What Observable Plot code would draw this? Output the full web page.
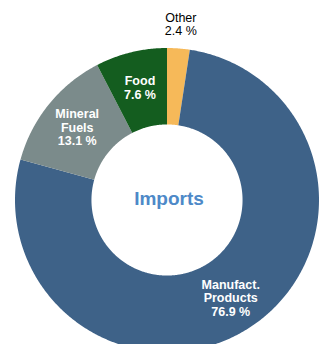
<!DOCTYPE html>
<html>
<head>
<meta charset="utf-8">
<script src="https://cdn.jsdelivr.net/npm/d3@7"></script>
<script src="https://cdn.jsdelivr.net/npm/@observablehq/plot@0.6"></script>
<style>
  html, body { margin: 0; padding: 0; background: #fff; }
  svg { display: block; }
</style>
</head>
<body>
<div id="chart"></div>
<script>
// Data (clockwise from 12 o'clock)
const categories = ["Other", "Manufact. Products", "Mineral Fuels", "Food"];
const shares = [2.4, 76.9, 13.1, 7.6];
const labelLines = [["Other", "2.4 %"], ["Manufact.", "Products", "76.9 %"], ["Mineral", "Fuels", "13.1 %"], ["Food", "7.6 %"]];
const colors = ["#f6b959", "#3e6288", "#7b8b8b", "#145d1f"];
const centerLabel = "Imports";

const inner = 0.497, outer = 1;
const total = d3.sum(shares);

// Build annular-sector outlines from the shares
const ringPts = [];
const labelPts = [];
let cum = 0;
categories.forEach((cat, i) => {
  const a0 = cum / total * 2 * Math.PI;
  cum += shares[i];
  const a1 = cum / total * 2 * Math.PI;
  const n = Math.max(2, Math.ceil((a1 - a0) / (Math.PI / 360)));
  for (let k = 0; k <= n; k++) {
    const t = a0 + (a1 - a0) * k / n;
    ringPts.push({cat, x1: Math.sin(t) * inner, y1: Math.cos(t) * inner, x2: Math.sin(t) * outer, y2: Math.cos(t) * outer});
  }
  const mid = (a0 + a1) / 2;
  const small = shares[i] / total < 0.05;
  const r = small ? 1.165 : 0.765;
  labelPts.push({cat, text: labelLines[i].join("\n"), x: Math.sin(mid) * r, y: Math.cos(mid) * r, small});
});

const chart = Plot.plot({
  width: 328,
  height: 344,
  margin: 0,
  x: {domain: [-1, 1], range: [15, 319], axis: null},
  y: {domain: [-1, 1], range: [352, 48], axis: null},
  color: {domain: categories, range: colors},
  style: {fontFamily: "Arial, 'Liberation Sans', sans-serif", background: "#fff"},
  marks: [
    Plot.area(ringPts, {x1: "x1", y1: "y1", x2: "x2", y2: "y2", z: "cat", fill: "cat"}),
    Plot.text(labelPts.filter(d => !d.small), {x: "x", y: "y", text: "text", fill: "white", fontWeight: "bold", fontSize: 12.5, lineHeight: 1.08}),
    Plot.text(labelPts.filter(d => d.small), {x: "x", y: "y", text: "text", fill: "black", fontSize: 12.5, lineHeight: 1.05}),
    Plot.text([centerLabel], {x: () => 0.01, y: () => 0.01, text: d => d, fill: "#4d89c8", fontWeight: "bold", fontSize: 19})
  ]
});
document.getElementById("chart").appendChild(chart);
</script>
</body>
</html>
